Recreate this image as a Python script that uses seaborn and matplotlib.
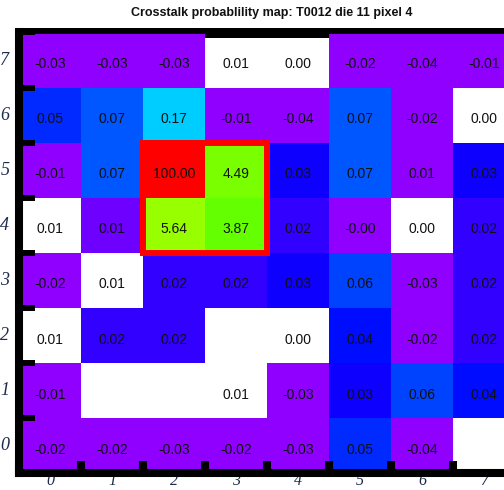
import numpy as np
import pandas as pd
import matplotlib
matplotlib.use("Agg")
import matplotlib.pyplot as plt
import matplotlib.patches as patches
import matplotlib.transforms as mtransforms
from matplotlib.colors import LinearSegmentedColormap, LogNorm
import seaborn as sns

# Crosstalk probabilities (%) per pixel, rows listed from y=7 (top) down to y=0
row_labels = ["7", "6", "5", "4", "3", "2", "1", "0"]
col_labels = ["0", "1", "2", "3", "4", "5", "6", "7"]
nan = np.nan
row7 = [-0.03, -0.03, -0.03, 0.01, 0.00, -0.02, -0.04, -0.01]
row6 = [0.05, 0.07, 0.17, -0.01, -0.04, 0.07, -0.02, 0.00]
row5 = [-0.01, 0.07, 100.00, 4.49, 0.03, 0.07, 0.0055, 0.03]
row4 = [0.01, 0.0096, 5.64, 3.87, 0.02, -0.001, 0.00, 0.02]
row3 = [-0.02, 0.01, 0.02, 0.02, 0.03, 0.06, -0.03, 0.02]
row2 = [0.01, 0.02, 0.02, nan, 0.00, 0.04, -0.02, 0.02]
row1 = [-0.01, nan, nan, 0.01, -0.03, 0.03, 0.06, 0.04]
row0 = [-0.02, -0.02, -0.03, -0.02, -0.03, 0.05, -0.04, nan]

# Pixels left unfilled on the map
blank7 = [0, 0, 0, 1, 1, 0, 0, 0]
blank6 = [0, 0, 0, 0, 0, 0, 0, 1]
blank5 = [0, 0, 0, 0, 0, 0, 0, 0]
blank4 = [1, 0, 0, 0, 0, 0, 1, 0]
blank3 = [0, 1, 0, 0, 0, 0, 0, 0]
blank2 = [1, 0, 0, 1, 1, 0, 0, 0]
blank1 = [0, 1, 1, 1, 0, 0, 0, 0]
blank0 = [0, 0, 0, 0, 0, 0, 0, 1]

values = np.array([row7, row6, row5, row4, row3, row2, row1, row0], dtype=float)
blank = np.array([blank7, blank6, blank5, blank4, blank3, blank2, blank1, blank0], dtype=bool)

# Log colour scale, rainbow palette from violet to red
zmin, zmax = 10 ** -2.2, 100.0
span = np.log10(zmax) - np.log10(zmin)
stops = [(-2.2, "#9000ff"), (-1.45, "#0000ff"), (-0.6, "#00ffff"),
         (0.27, "#00ff00"), (1.07, "#ffff00"), (1.87, "#ff0000"), (2.0, "#ff0000")]
cmap = LinearSegmentedColormap.from_list(
    "rainbow_pal", [((x - np.log10(zmin)) / span, c) for x, c in stops], N=256)

colour_df = pd.DataFrame(np.clip(np.nan_to_num(values, nan=zmin), zmin, None),
                         index=row_labels, columns=col_labels)

W, H = 504, 490
fig = plt.figure(figsize=(W / 100, H / 100), dpi=100)
ax_left, ax_right, ax_top, ax_bottom = 19, 515, 32.5, 473
ax = fig.add_axes([ax_left / W, (H - ax_bottom) / H,
                   (ax_right - ax_left) / W, (ax_bottom - ax_top) / H])

# dark band along the top frame, visible through unfilled pixels
ax.add_patch(patches.Rectangle((0, 1 - 5 / 440), 1, 5 / 440 + 4 / 440,
                               transform=ax.transAxes, color="black",
                               zorder=0.5, clip_on=False, lw=0))

sns.heatmap(colour_df, ax=ax, mask=blank, cmap=cmap,
            norm=LogNorm(vmin=zmin, vmax=zmax), cbar=False,
            xticklabels=col_labels, yticklabels=row_labels)

# value labels, nudged slightly below the cell centre
text_tr = mtransforms.offset_copy(ax.transData, fig=fig, x=0, y=-3, units="points")
for i in range(values.shape[0]):
    for j in range(values.shape[1]):
        v = values[i, j]
        if np.isnan(v):
            continue
        ax.text(j + 0.5, i + 0.5, f"{v:.2f}", ha="center", va="center",
                fontsize=10, family="Liberation Sans", color="#111111",
                transform=text_tr, zorder=4)

# highlighted pixel group
ax.add_patch(patches.Rectangle((2, 2), 2, 2, fill=False, ec="#ff0000",
                               lw=4.3, joinstyle="miter", zorder=5))

# frame
ax.spines["right"].set_visible(False)
for side in ["left", "bottom"]:
    ax.spines[side].set_visible(True)
    ax.spines[side].set_linewidth(5.8)
    ax.spines[side].set_color("black")
ax.spines["top"].set_visible(True)
ax.spines["top"].set_linewidth(2.0)
ax.spines["top"].set_color("black")

# labels at cell centres, tick marks at the cell boundaries
ax.set_xticks(np.arange(0, 9), minor=True)
ax.set_yticks(np.arange(0, 9), minor=True)
ax.tick_params(which="major", length=0)
ax.tick_params(axis="x", which="major", pad=0)
ax.tick_params(axis="y", which="major", pad=7)
ax.tick_params(axis="x", which="minor", direction="in", length=9, width=5.8,
               color="black", top=False, bottom=True)
ax.tick_params(axis="y", which="minor", direction="in", length=11.5, width=4.3,
               color="black", left=True, right=False)
ax.set_xticklabels(col_labels, rotation=0, fontsize=11.5, fontstyle="italic",
                   family="Liberation Serif", color="#1c2b4b")
ax.set_yticklabels(row_labels, rotation=0, fontsize=13, fontstyle="italic",
                   family="Liberation Serif", color="#1c2b4b")
ax.set_xlabel("")
ax.set_ylabel("")

fig.text(272 / W, 1 - 13 / H, "Crosstalk probablility map: T0012 die 11 pixel 4",
         ha="center", va="center", fontsize=9, fontweight="bold",
         family="Liberation Sans", color="#111111")

fig.savefig("out.png", dpi=100)
